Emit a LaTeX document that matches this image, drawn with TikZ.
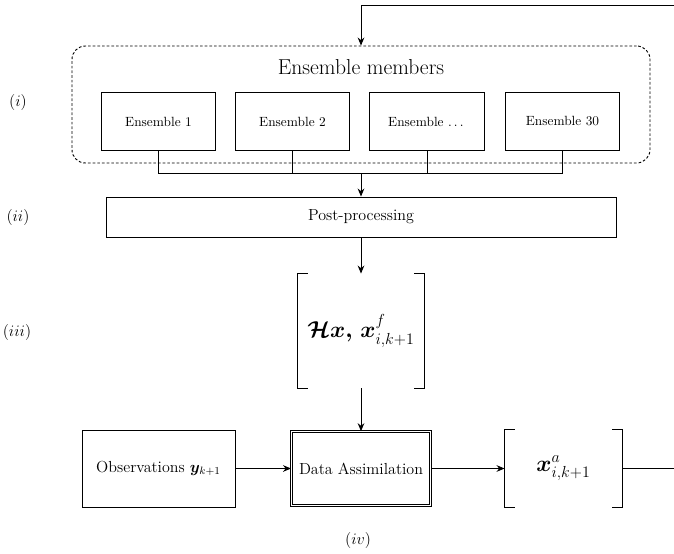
\documentclass[tikz,border=0pt,12pt]{standalone}
\usepackage{amsmath,amssymb,bm}
\usetikzlibrary{arrows.meta}
\tikzset{
  ensbox/.style={draw, minimum width=86pt, minimum height=43pt, font=\footnotesize},
  group/.style={draw, dash pattern=on 2pt off 1.5pt, rounded corners=10pt, minimum width=433.5pt, minimum height=87.75pt},
  plainbox/.style={draw, minimum width=114.75pt, minimum height=57.75pt},
  vecnode/.style={minimum width=94.5pt, minimum height=85.5pt},
}
\begin{document}
\begin{tikzpicture}[x=0.75pt, y=-0.75pt, line width=0.7pt, >={Stealth[length=6pt,width=5pt]}]
\clip (0,0) rectangle (674,553);
\node[group] (ensgroup) at (361,104.5) {};
\node[font=\fontsize{16.2}{19}\selectfont] (members) at (361,67) {Ensemble members};
\node[ensbox] (e1) at (158.5,121.5) {Ensemble 1};
\node[ensbox] (e2) at (292.5,121.5) {Ensemble 2};
\node[ensbox] (e3) at (427,121.5) {Ensemble $\dots$};
\node[ensbox] (e4) at (562.5,121.5) {Ensemble 30};
\coordinate (join) at (361,173);
\draw (e1.south) |- (join);
\draw (e2.south) |- (join);
\draw (e3.south) |- (join);
\draw (e4.south) |- (join);
\node[draw, minimum width=382.5pt, minimum height=30pt] (post) at (361,217) {Post-processing};
\draw[->] (join) -- (post.north);
\node[vecnode, font=\fontsize{18}{20}\selectfont] (hx) at (361,331) {$\bm{\mathcal{H}x,\, x}^{f}_{i,k+1}$};
\draw ([xshift=7.5pt]hx.north west) -- (hx.north west) -- (hx.south west) -- ++(7.5pt,0);
\draw ([xshift=-7.5pt]hx.north east) -- (hx.north east) -- (hx.south east) -- ++(-7.5pt,0);
\draw[->] (post.south) -- (hx.north);
\node[plainbox] (obs) at (158.5,468.5) {Observations $\bm{y}_{k+1}$};
\node[draw, double, double distance=1.2pt, line width=0.5pt, minimum width=104.5pt, minimum height=55.5pt] (da) at (361,468.5) {Data Assimilation};
\node[minimum width=87.75pt, minimum height=57.75pt, font=\Large] (xa) at (563.5,468.5) {$\bm{x}^{a}_{i,k+1}$};
\draw ([xshift=7.5pt]xa.north west) -- (xa.north west) -- (xa.south west) -- ++(7.5pt,0);
\draw ([xshift=-7.5pt]xa.north east) -- (xa.north east) -- (xa.south east) -- ++(-7.5pt,0);
\draw[->] (hx.south) -- (da.north);
\draw[->] (obs.east) -- (da.west);
\draw[->] (da.east) -- (xa.west);
\coordinate (loop) at (690,5);
\draw[->] (xa.east) -| (loop) -| (ensgroup.north);
\node (li) at (18,102) {$(i)$};
\node (lii) at (18,217) {$(ii)$};
\node (liii) at (17,332) {$(iii)$};
\node (liv) at (358,540) {$(iv)$};
\end{tikzpicture}
\end{document}
